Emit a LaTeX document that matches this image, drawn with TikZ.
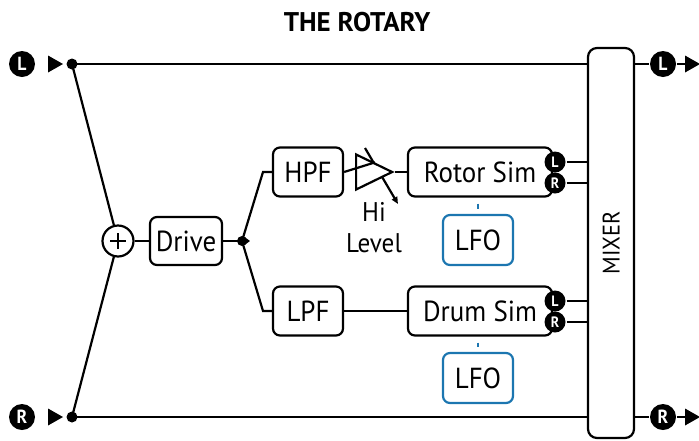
\documentclass[tikz,border=0pt]{standalone}
\usepackage{fontspec}
\setmainfont{PT Sans}[FakeStretch=0.93]
\newfontfamily\titlefont{PT Sans}
\usetikzlibrary{arrows.meta,shapes.geometric}
\definecolor{lfoblue}{RGB}{28,118,176}
\begin{document}
\begin{tikzpicture}[x=1pt,y=-1pt,line width=2.2pt,
  box/.style={draw,rounded corners=7pt,inner sep=0pt,minimum width=70pt,minimum height=49pt,font=\fontsize{29}{31}\selectfont},
  lfobox/.style={box,draw=lfoblue},
  badge/.style={circle,fill=black,text=white,inner sep=0pt,minimum size=21pt,font=\bfseries\fontsize{15}{15}\selectfont},
  bigbadge/.style={badge,minimum size=26pt,font=\bfseries\fontsize{19}{19}\selectfont},
  dotnode/.style={circle,fill=black,inner sep=0pt,minimum size=11pt},
  tri/.style={isosceles triangle,isosceles triangle stretches,fill=black,inner sep=0pt,minimum height=15pt,minimum width=17pt,line width=0pt},
  lvltext/.style={inner sep=0pt,font=\fontsize{27}{29}\selectfont}]
\useasboundingbox (0,0) rectangle (699,440);

\node[font=\titlefont\bfseries\fontsize{27}{29}\selectfont] (title) at (357,22) {THE ROTARY};

% inputs
\node[bigbadge] (Lin) at (22,64) {L};
\node[bigbadge] (Rin) at (22,417) {R};
\node[tri,anchor=apex] (Ltri) at (63,64) {};
\node[tri,anchor=apex] (Rtri) at (63,417) {};
\node[dotnode] (Ldot) at (72,64) {};
\node[dotnode] (Rdot) at (72,417) {};

% mixer
\node[draw,rounded corners=9pt,minimum width=46pt,minimum height=390pt,inner sep=0pt] (mixer) at (611,243) {};
\node[rotate=90,font=\fontsize{24}{26}\selectfont] (mixlbl) at (mixer.center) {MIXER};

% outputs
\node[bigbadge] (Lout) at (663,64) {L};
\node[bigbadge] (Rout) at (663,417) {R};
\node[tri,anchor=apex] (Ltrio) at (700,64) {};
\node[tri,anchor=apex] (Rtrio) at (700,417) {};

\draw (Ldot.center) -- (mixer.west |- Ldot);
\draw (Rdot.center) -- (mixer.west |- Rdot);
\draw (mixer.east |- Lout) -- (Lout);
\draw (mixer.east |- Rout) -- (Rout);
\draw (Lout) -- (Ltrio);
\draw (Rout) -- (Rtrio);

% sum and drive
\node[draw,circle,minimum size=31pt,inner sep=0pt] (sum) at (118,241) {};
\draw ([xshift=-8pt]sum.center) -- ([xshift=8pt]sum.center);
\draw ([yshift=-8pt]sum.center) -- ([yshift=8pt]sum.center);
\draw (Ldot.center) -- (sum);
\draw (Rdot.center) -- (sum);
\node[box,minimum width=72pt,minimum height=48pt] (drive) at (186,241) {Drive};
\draw (sum) -- (drive);
\node[dotnode,minimum size=10pt] (jdot) at (242,241) {};
\coordinate (jtip) at (250,241);
\draw[-{Triangle[length=5pt,width=7pt]}] (drive) -- (jtip);

% filters
\node[box] (hpf) at (308,172) {HPF};
\node[box] (lpf) at (308,311) {LPF};
\coordinate (hbend) at (263,172);
\coordinate (lbend) at (263,311);
\draw (jdot.center) -- (hbend) -- (hpf.west);
\draw (jdot.center) -- (lbend) -- (lpf.west);

% amp
\coordinate (ka) at (365,148);
\coordinate (kb) at (398,204);
\draw[-{Triangle[length=7pt,width=6pt]}] (ka) -- (kb);
\node[isosceles triangle,isosceles triangle stretches,draw,fill=white,inner sep=0pt,minimum height=36pt,minimum width=35pt,anchor=apex] (amp) at (395,172) {};
\draw (hpf.east) -- (amp.left side);
\node[lvltext] (hi) at (374,212) {Hi};
\node[lvltext] (lvl) at (374,243) {Level};

% sims
\node[box,minimum width=144pt] (rotor) at (480,172) {Rotor Sim};
\node[box,minimum width=144pt] (drum) at (480,311) {Drum Sim};
\draw (amp.apex) -- (rotor.west);
\draw (lpf) -- (drum);

\node[badge] (rL) at (555,162) {L};
\node[badge] (rR) at (555,183) {R};
\node[badge] (dL) at (555,301) {L};
\node[badge] (dR) at (555,322) {R};
\draw (rL) -- (mixer.west |- rL);
\draw (rR) -- (mixer.west |- rR);
\draw (dL) -- (mixer.west |- dL);
\draw (dR) -- (mixer.west |- dR);

% LFOs
\node[lfobox,minimum height=50pt] (lfo1) at (478,240) {LFO};
\node[lfobox,minimum height=50pt] (lfo2) at (478,378) {LFO};
\draw[lfoblue,shorten <=6pt,shorten >=5pt] (lfo1.north |- rotor.south) -- (lfo1.north);
\draw[lfoblue,shorten <=6pt,shorten >=5pt] (lfo2.north |- drum.south) -- (lfo2.north);
\end{tikzpicture}
\end{document}
